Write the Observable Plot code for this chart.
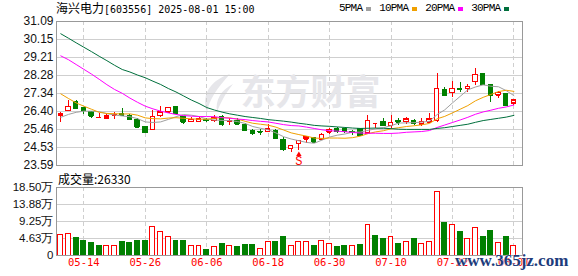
<!DOCTYPE html>
<html><head><meta charset="utf-8">
<script src="https://cdn.jsdelivr.net/npm/d3@7"></script>
<script src="https://cdn.jsdelivr.net/npm/@observablehq/plot@0.6"></script>
<style>
body{margin:0;background:#fff;}
#wrap{position:relative;width:578px;height:276px;overflow:hidden;font-family:"Liberation Sans",Arial,sans-serif;background:#fff;}
.abs{position:absolute;white-space:nowrap;}
#wrap svg{background:transparent;overflow:visible;}
#wrap svg rect, #wrap svg line{shape-rendering:crispEdges;}
.lg{display:inline-block;font-family:"Liberation Mono",monospace;font-size:11px;letter-spacing:-0.8px;color:#000;vertical-align:top;}
.sq{display:inline-block;width:5px;height:4px;margin:0 8px 0 4px;vertical-align:top;margin-top:6px;}
</style></head><body><div id="wrap"></div>
<script>
// ---- data ----
const stockName = "海兴电力";
const stockCode = "603556";
const stamp = "2025-08-01 15:00";
const volumeNow = 26330;
const maNames = ["5PMA","10PMA","20PMA","30PMA"];
const maColors = ["#a0a0a0","#f0a000","#ff00ff","#006f3c"];
const priceTicks = [23.59,24.53,25.46,26.40,27.34,28.28,29.21,30.15,31.09];
const volTicks = [0,4.63,9.25,13.88,18.50];
const volTickLabels = ["0","4.63万","9.25万","13.88万","18.50万"];
const tickIndex = [3,11,19,27,35,43,51,59];
const dateLabels = ["05-14","05-26","06-06","06-18","06-30","07-10","07-22","08-01"];
const open = [26.22,26.44,26.92,26.56,26.37,26.10,26.04,26.20,26.28,26.19,25.97,25.57,25.45,26.18,26.37,26.63,26.11,25.86,25.86,25.95,25.93,26.11,25.87,25.93,25.71,25.41,25.33,25.36,25.39,24.94,24.46,24.72,24.97,25.00,24.97,25.33,25.50,25.49,25.33,25.49,25.28,25.76,25.88,25.67,25.91,25.86,25.93,25.75,25.85,25.93,27.53,27.38,27.58,27.58,27.94,28.33,27.79,27.24,27.29,26.84];
const close = [26.25,26.66,26.57,26.45,26.16,26.10,26.16,26.23,26.21,25.97,25.58,25.29,26.12,26.36,26.59,26.31,25.83,25.96,26.01,25.92,26.06,25.75,25.91,25.74,25.43,25.26,25.31,25.49,24.98,24.42,24.63,24.87,25.05,24.80,25.18,25.46,25.36,25.36,25.30,25.15,25.93,25.76,25.67,25.81,25.83,25.99,25.78,25.86,25.99,27.58,27.24,27.58,27.55,27.70,28.31,27.81,27.24,27.37,26.74,26.98];
const high = [26.37,26.98,26.98,26.58,26.40,26.28,26.28,26.35,26.57,26.24,26.02,25.60,26.48,26.66,26.61,26.66,26.15,26.11,26.09,26.05,26.18,26.20,26.02,26.02,25.76,25.45,25.49,25.70,25.45,25.03,24.63,24.89,25.05,25.05,25.26,25.54,25.55,25.52,25.41,25.49,26.19,25.76,26.04,26.19,26.02,26.11,26.00,26.04,26.30,28.38,27.67,27.97,27.89,27.79,28.66,28.33,27.81,27.45,27.34,26.98];
const low = [25.85,26.44,26.51,26.23,26.04,26.07,25.97,25.99,26.20,25.92,25.53,25.24,25.40,26.10,26.37,26.31,25.71,25.86,25.86,25.81,25.85,25.61,25.67,25.71,25.41,25.15,25.15,25.33,24.93,24.33,24.27,24.37,24.74,24.79,24.92,25.23,25.27,25.25,25.15,25.10,25.20,25.50,25.62,25.52,25.67,25.73,25.67,25.62,25.78,25.83,27.18,27.15,27.41,27.41,27.78,27.81,26.89,27.08,26.72,26.72];
const vol = [5.63,5.90,4.71,4.08,3.35,2.54,2.45,2.72,3.54,3.35,3.81,3.81,7.62,6.26,4.99,3.81,3.81,2.72,2.45,1.63,2.18,3.26,2.45,2.18,2.99,2.99,1.90,3.54,3.54,4.90,2.45,3.72,3.72,2.72,4.00,3.17,2.27,2.45,2.63,2.99,8.34,5.17,4.62,4.90,3.26,3.72,4.62,3.17,3.72,17.41,8.71,8.34,6.26,4.53,7.35,4.90,6.80,3.45,4.90,2.63];
const volUp = [1,1,0,0,0,0,1,1,0,0,0,0,1,1,1,0,0,1,1,0,1,0,1,0,0,0,1,1,0,0,1,1,1,0,1,1,0,0,1,0,1,0,0,1,0,1,0,1,1,1,0,1,0,1,1,0,0,1,0,1];
const ma5 = [26.10,26.25,26.36,26.42,26.42,26.39,26.29,26.22,26.17,26.13,26.03,25.86,25.83,25.86,25.99,26.13,26.24,26.21,26.14,26.01,25.96,25.94,25.93,25.88,25.78,25.62,25.53,25.45,25.29,25.09,24.97,24.88,24.79,24.75,24.91,25.07,25.17,25.23,25.33,25.33,25.42,25.50,25.56,25.66,25.80,25.81,25.82,25.85,25.89,26.24,26.49,26.85,27.19,27.53,27.68,27.79,27.72,27.69,27.49,27.23];
const ma10 = [27.32,27.08,26.85,26.68,26.52,26.36,26.30,26.29,26.27,26.28,26.21,26.07,26.03,26.02,26.06,26.08,26.05,26.02,26.00,26.00,26.05,26.09,26.07,26.01,25.89,25.79,25.74,25.69,25.59,25.44,25.29,25.20,25.12,25.02,25.00,25.02,25.02,25.01,25.04,25.12,25.25,25.34,25.40,25.50,25.56,25.62,25.66,25.71,25.78,26.02,26.15,26.33,26.52,26.71,26.96,27.14,27.29,27.44,27.51,27.45];
const ma20 = [29.30,29.10,28.85,28.60,28.35,28.08,27.80,27.55,27.35,27.10,26.88,26.68,26.54,26.42,26.33,26.25,26.19,26.16,26.14,26.14,26.13,26.08,26.05,26.01,25.98,25.93,25.89,25.86,25.79,25.72,25.67,25.65,25.59,25.52,25.45,25.40,25.38,25.35,25.31,25.28,25.27,25.27,25.26,25.26,25.28,25.32,25.34,25.36,25.41,25.57,25.70,25.83,25.96,26.10,26.26,26.38,26.47,26.57,26.64,26.74];
const ma30 = [30.45,30.22,29.98,29.75,29.52,29.28,29.05,28.81,28.59,28.46,28.30,28.16,27.98,27.81,27.60,27.42,27.21,27.00,26.82,26.61,26.48,26.37,26.28,26.21,26.14,26.09,26.04,25.98,25.94,25.90,25.85,25.79,25.74,25.68,25.65,25.63,25.60,25.57,25.54,25.52,25.53,25.54,25.53,25.51,25.48,25.47,25.47,25.47,25.47,25.52,25.56,25.62,25.68,25.74,25.84,25.93,25.99,26.05,26.11,26.20];
const signalIndex = [31];
const signalText = ["S"];

// ---- derived tables ----
const RED = "#ff0000", GREEN = "#008000";
const idx = d3.range(open.length);
const candles = idx.map(i => ({i, o: open[i], c: close[i], h: high[i], l: low[i], up: close[i] >= open[i]}));
const vols = idx.map(i => ({i, v: vol[i], up: volUp[i] === 1}));
const mas = [ma5, ma10, ma20, ma30];
const signals = signalIndex.map((i, k) => ({i, l: low[i], t: signalText[k]}));
const xDomain = [-0.56, 60.12];
const hw = 0.29;

const wrap = document.getElementById("wrap");
function place(el, top, left = 0) {
  const d = document.createElement("div");
  d.className = "abs"; d.style.left = left + "px"; d.style.top = top + "px";
  d.appendChild(el); wrap.appendChild(d); return d;
}

// watermark logo (decorative)
const logo = document.createElement("div");
logo.innerHTML = `<svg width="40" height="42" viewBox="0 0 40 42"><path d="M33 2 C14 8 4 22 10 40 C12 28 20 16 33 2 Z" fill="#e6e6ea"/><path d="M36 12 C24 18 18 28 20 40 C24 30 28 22 36 12 Z" fill="#e6e6ea"/></svg>`;
place(logo, 72, 197);

const main = Plot.plot({
  width: 578, height: 170,
  marginLeft: 56, marginRight: 56, marginTop: 21, marginBottom: 5,
  style: {background: "transparent", fontFamily: "Liberation Sans, Arial, sans-serif", fontSize: "12px", color: "#111", overflow: "visible"},
  x: {domain: xDomain, axis: null},
  y: {domain: [priceTicks[0], priceTicks[priceTicks.length - 1]], axis: null},
  color: {type: "identity"},
  marks: [
    Plot.gridY(priceTicks, {stroke: "#cfcfcf", strokeOpacity: 1}),
    Plot.gridX(tickIndex, {stroke: "#cfcfcf", strokeOpacity: 1, strokeDasharray: "4,3"}),
    Plot.text(["东方财富"], {text: d => d, frameAnchor: "middle", dx: 21, dy: 0, fontSize: 35, fontWeight: "bold", fill: "#e6e6ea", fontFamily: "Noto Sans CJK SC"}),
    Plot.text(priceTicks, {y: d => d, text: d => d.toFixed(2), frameAnchor: "left", dx: -3, textAnchor: "end", fill: "#111", fontSize: 12}),
    Plot.ruleX(candles, {x: "i", y1: "l", y2: "h", stroke: d => d.up ? RED : GREEN}),
    Plot.rect(candles, {x1: d => d.i - hw, x2: d => d.i + hw, y1: d => Math.min(d.o, d.c), y2: d => Math.max(d.o, d.c), fill: d => d.up ? "#fff" : GREEN, stroke: d => d.up ? RED : GREEN}),
    Plot.ruleY(candles, {y: "c", x1: d => d.i - hw, x2: d => d.i + hw, stroke: d => d.up ? RED : GREEN}),
    Plot.ruleY(candles, {y: "o", x1: d => d.i - hw, x2: d => d.i + hw, stroke: d => d.up ? RED : GREEN}),
    ...mas.map((m, k) => Plot.line(idx, {x: d => d, y: d => m[d], stroke: maColors[k], strokeWidth: 1})),
    Plot.dot(signals, {x: "i", y: "l", dy: 4, symbol: "triangle", r: 2, fill: RED, stroke: null}),
    Plot.text(signals, {x: "i", y: "l", text: "t", dy: 10.5, fill: RED, fontSize: 12, fontFamily: "Liberation Mono"}),
    Plot.frame({stroke: "#999"})
  ]
});
place(main, 0);

const volPlot = Plot.plot({
  width: 578, height: 106,
  marginLeft: 56, marginRight: 56, marginTop: 17, marginBottom: 21,
  style: {background: "transparent", fontFamily: "Liberation Sans, Arial, sans-serif", fontSize: "12px", color: "#111", overflow: "visible"},
  x: {domain: xDomain, axis: null},
  y: {domain: [0, volTicks[volTicks.length - 1]], axis: null},
  color: {type: "identity"},
  marks: [
    Plot.gridY(volTicks.slice(1, -1), {stroke: "#cfcfcf", strokeOpacity: 1}),
    Plot.gridX(tickIndex, {stroke: "#cfcfcf", strokeOpacity: 1, strokeDasharray: "4,3"}),
    Plot.text(volTicks, {y: d => d, text: (d, k) => volTickLabels[k], frameAnchor: "left", dx: -3, textAnchor: "end", fill: "#111", fontSize: 11.5}),
    Plot.text(tickIndex, {x: d => d, text: (d, k) => dateLabels[k], frameAnchor: "bottom", dy: 10, fill: RED, fontSize: 10.5, fontFamily: "DejaVu Sans Mono"}),
    Plot.rect(vols, {x1: d => d.i - 0.32, x2: d => d.i + 0.32, y1: 0, y2: "v", fill: d => d.up ? "#fff" : GREEN, stroke: d => d.up ? RED : GREEN}),
    Plot.frame({stroke: "#999"})
  ]
});
place(volPlot, 170);

// header
const head = document.createElement("div");
head.style.cssText = "line-height:15px;color:#000;";
head.innerHTML = `<span style="font-family:'Noto Sans CJK SC';font-size:12px">${stockName}</span><span style="font-family:'DejaVu Sans Mono';font-size:10px">[${stockCode}] ${stamp}</span>`;
place(head, 0, 56);

// legend
const leg = document.createElement("div");
leg.style.cssText = "line-height:14px;";
leg.innerHTML = maNames.map((n, k) => `<span class="lg">${n}</span><span class="sq" style="background:${maColors[k]}"></span>`).join("");
place(leg, 1, 339);

// volume caption
const cap = document.createElement("div");
cap.style.cssText = "font-family:'Noto Sans CJK SC';font-size:12px;line-height:15px;color:#000;";
cap.textContent = "成交量:" + volumeNow;
place(cap, 171, 58);

// site watermark
const site = document.createElement("div");
site.style.cssText = "font-family:'Liberation Serif',serif;font-weight:bold;font-size:17px;line-height:17px;color:#1d3c7c;text-shadow:0 0 1px #fff,0 0 1px #fff;";
site.textContent = "www.365jz.com";
place(site, 252, 455);
</script></body></html>
